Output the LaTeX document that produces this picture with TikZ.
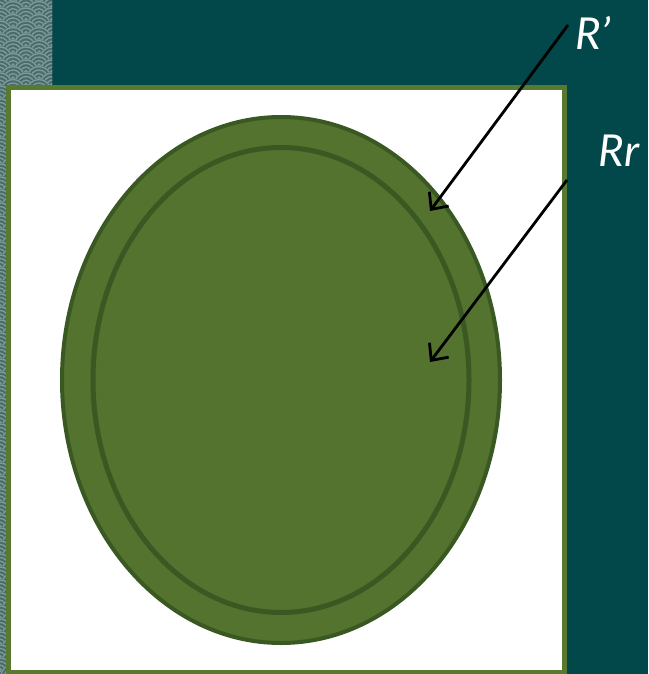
\documentclass[tikz,border=0pt]{standalone}
\usepackage{fontspec}
\usepackage{xcolor}
\usepackage{tikz}
\usetikzlibrary{arrows.meta,positioning,shapes.geometric}
\newfontfamily\handfont{Lato}
\definecolor{bgteal}{HTML}{02474A}
\definecolor{wavebase}{HTML}{4B6A6A}
\definecolor{wavelight}{HTML}{7C9C9C}
\definecolor{leafgreen}{HTML}{53732F}
\definecolor{leafdark}{HTML}{3A5822}
\definecolor{frame}{HTML}{577A30}
\tikzset{
  ring/.style={ellipse, draw=leafdark, inner sep=0pt},
  ptr/.style={-{Straight Barb[length=13pt,width=24pt]}, line width=2.8pt, black},
  lbl/.style={text=white, font=\handfont\itshape\fontsize{44}{44}\selectfont, inner sep=0pt},
}

\begin{document}
\begin{tikzpicture}[x=1pt,y=-1pt]
\useasboundingbox (0,0) rectangle (648,674);
\fill[bgteal] (0,0) rectangle (648,674);
% wave strip
\begin{scope}
\clip (0,0) rectangle (52,87) (0,87) rectangle (8,674);
\fill[wavebase] (0,0) rectangle (52,674);
\foreach \row in {0,...,105}{
  \pgfmathsetmacro{\yy}{\row*6.5-6}
  \pgfmathsetmacro{\xo}{mod(\row,2)*13}
  \foreach \col in {-1,...,2}{
    \fill[wavebase] (\xo+\col*26,\yy) circle (13);
    \foreach \rad in {12,8.5,5,1.5}
      \draw[wavelight, line width=1.3pt] (\xo+\col*26,\yy) circle (\rad);
  }
}
\end{scope}
% sheet
\filldraw[fill=white, draw=frame, line width=5pt] (8.5,87.5) rectangle (564.5,672.5);
\node[ring, fill=leafgreen, line width=4pt, minimum width=438pt, minimum height=526pt] (outer) at (281,380) {};
\node[ring, line width=5pt, minimum width=376pt, minimum height=465pt] (inner) at (281,380) {};
% labels
\node[lbl] (rp) at (593,33) {R’};
\node[lbl] (rr) at (619,151) {Rr};
\coordinate (tailA) at (568,25);
\coordinate (headA) at (430,211);
\coordinate (tailB) at (567,180);
\coordinate (headB) at (430,362);
\draw[ptr] (tailA) -- (headA);
\draw[ptr] (tailB) -- (headB);
\end{tikzpicture}
\end{document}
